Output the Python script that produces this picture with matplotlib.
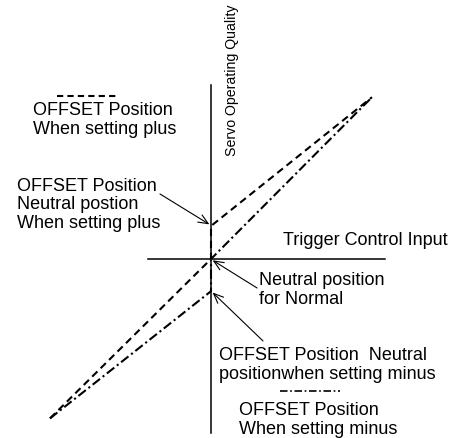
import matplotlib
matplotlib.use("Agg")
import matplotlib.pyplot as plt

plt.rcParams['font.family'] = ['Liberation Sans', 'DejaVu Sans']

# transfer curves (x = trigger input, y = servo output), 100 = full travel
plus_x = [-100, 0, 0, 100]
plus_y = [-99, 0, 20.5, 100.5]
minus_x = [-100, 0, 0, 100]
minus_y = [-99, -20, 0, 100.5]

# axes extents
h_axis_x = [-39, 108]
v_axis_y = [-108, 108]

# arrows: (tail, head)
arrows = [((-31.7, 40.4), (-1.0, 21.5)),
          ((28.6, -18.0), (1.0, -0.8)),
          ((32.3, -50.9), (1.0, -20.8))]

SCALE = 1.61  # px per unit
OX, OY = 211, 260  # origin in pixels
W, H = 452, 439


def px(x, y):
    return ((x - OX) / SCALE, (OY - y) / SCALE)


fig = plt.figure(figsize=(W / 100, H / 100), dpi=100)
ax = fig.add_axes([0, 0, 1, 1])
ax.set_xlim(-OX / SCALE, (W - OX) / SCALE)
ax.set_ylim((OY - H) / SCALE, OY / SCALE)
ax.axis('off')

# axes
ax.plot(h_axis_x, [0, 0], color='black', lw=1.1)
ax.plot([0, 0], v_axis_y, color='black', lw=1.1)

# curves
ax.plot(plus_x, plus_y, color='black', lw=1.5, ls=(0, (3.5, 2.2)))
ax.plot(minus_x, minus_y, color='black', lw=1.5, ls=(0, (4.5, 1.6, 1.0, 1.6)))

# legend samples
x0, y0 = px(57, 97)
x1, _ = px(117, 97)
ax.plot([x0, x1], [y0, y0], color='black', lw=1.5, ls=(0, (3.0, 2.0)))
x0, y0 = px(280, 392)
x1, _ = px(340, 392)
ax.plot([x0, x1], [y0, y0], color='black', lw=1.2, ls=(0, (4.5, 1.6, 1.0, 1.6)))

for tail, head in arrows:
    ax.annotate('', xy=head, xytext=tail,
                arrowprops=dict(arrowstyle='->,head_length=0.7,head_width=0.3',
                                color='black', lw=0.8, shrinkA=0, shrinkB=0))

fs = 13
ls = 1.1
ax.text(*px(33, 120), "OFFSET Position\nWhen setting plus", fontsize=fs,
        ha='left', va='center', linespacing=ls)
ax.text(*px(17, 205), "OFFSET Position\nNeutral postion\nWhen setting plus", fontsize=fs,
        ha='left', va='center', linespacing=ls)
ax.text(*px(232, 80), "Servo Operating Quality", fontsize=10.2, rotation=90,
        ha='center', va='center')
ax.text(*px(283, 241), "Trigger Control Input", fontsize=fs, ha='left', va='center')
ax.text(*px(259, 290), "Neutral position\nfor Normal", fontsize=fs,
        ha='left', va='center', linespacing=ls)
ax.text(*px(219, 365), "OFFSET Position  Neutral\npositionwhen setting minus", fontsize=fs,
        ha='left', va='center', linespacing=ls)
ax.text(*px(239, 420), "OFFSET Position\nWhen setting minus", fontsize=fs,
        ha='left', va='center', linespacing=ls)

fig.savefig("out.png", dpi=100, facecolor='white')
